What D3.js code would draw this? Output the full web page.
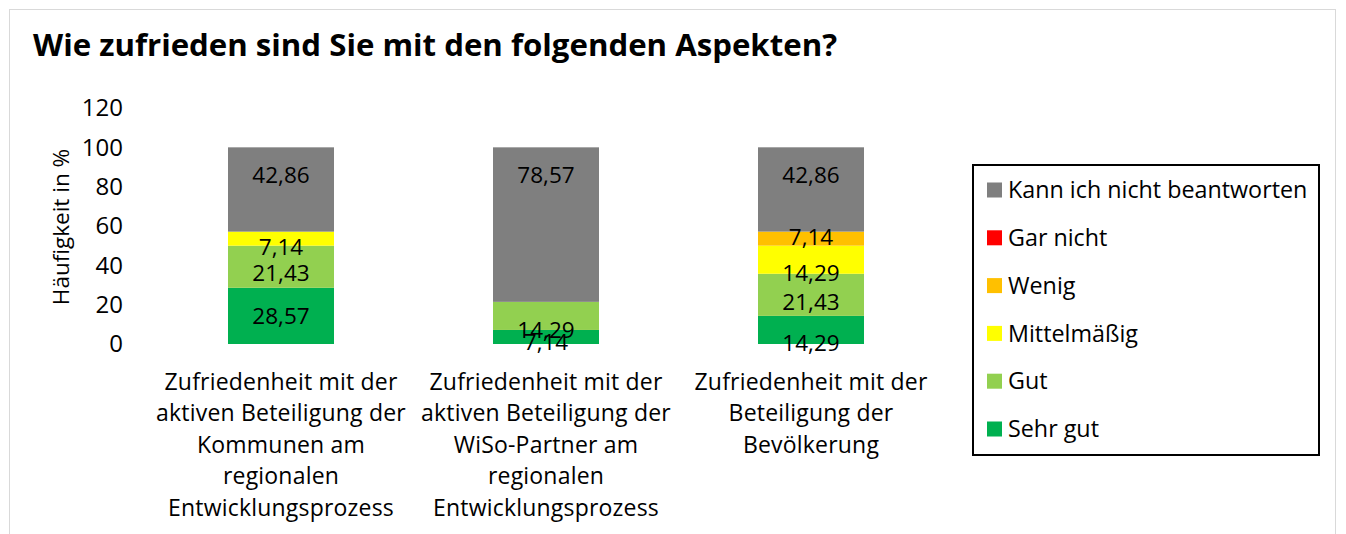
<!DOCTYPE html>
<html>
<head>
<meta charset="utf-8">
<script src="https://cdn.jsdelivr.net/npm/d3@7"></script>
<style>
  body { margin: 0; background: #fff; }
  text { font-family: "Open Sans", sans-serif; fill: #000; }
</style>
</head>
<body>
<div id="chart"></div>
<script>
// categories (line breaks as in the original)
const categories = [
    ['Zufriedenheit mit der', 'aktiven Beteiligung der', 'Kommunen am', 'regionalen', 'Entwicklungsprozess'],
    ['Zufriedenheit mit der', 'aktiven Beteiligung der', 'WiSo-Partner am', 'regionalen', 'Entwicklungsprozess'],
    ['Zufriedenheit mit der', 'Beteiligung der', 'Bevölkerung']
];

// series, from bottom to top of the stack
const seriesNames = ['Sehr gut', 'Gut', 'Mittelmäßig', 'Wenig', 'Gar nicht', 'Kann ich nicht beantworten'];
const sehrGut = [28.57, 7.14, 14.29];
const gut = [21.43, 14.29, 21.43];
const mittelmaessig = [7.14, 0, 14.29];
const wenig = [0, 0, 7.14];
const garNicht = [0, 0, 0];
const kannNicht = [42.86, 78.57, 42.86];

const yTicks = [0, 20, 40, 60, 80, 100, 120];

const colors = ['#00b050', '#92d050', '#ffff00', '#ffc000', '#ff0000', '#7f7f7f'];

// label nudges (px from segment middle), like the hand-placed labels of the original
const labelNudge = [
    [0, 5, 13],
    [6, 14, 7],
    [8, 0, 13],
    [0, 0, -2],
    [0, 0, 0]
];

const width = 1346, height = 534;
const svg = d3.select('#chart').append('svg')
    .attr('width', width)
    .attr('height', height);

// outer chart frame
svg.append('rect')
    .attr('x', 9.5).attr('y', 9.5)
    .attr('width', 1326).attr('height', 600)
    .attr('fill', 'none')
    .attr('stroke', '#d9d9d9')
    .attr('stroke-width', 1);

svg.append('text')
    .attr('x', 33).attr('y', 56)
    .attr('font-size', 31.2)
    .attr('font-weight', 'bold')
    .text('Wie zufrieden sind Sie mit den folgenden Aspekten?');

const allSeries = [sehrGut, gut, mittelmaessig, wenig, garNicht, kannNicht];
const rows = categories.map((c, i) => {
    const r = { idx: i };
    seriesNames.forEach((s, j) => r[s] = allSeries[j][i]);
    return r;
});
const stacked = d3.stack().keys(seriesNames)(rows);

const x = d3.scaleBand()
    .domain(d3.range(categories.length))
    .range([148.5, 943.5])
    .paddingInner(0.6)
    .paddingOuter(0.3);

const y = d3.scaleLinear()
    .domain([0, 120])
    .range([344, 108]);

// y axis: labels only
const yAxis = svg.append('g')
    .attr('transform', 'translate(123,0)')
    .call(d3.axisLeft(y).tickValues(yTicks).tickSize(0).tickPadding(0));
yAxis.select('.domain').remove();
yAxis.selectAll('text')
    .attr('font-size', 24)
    .attr('font-family', '"Open Sans", sans-serif')
    .attr('fill', '#000');

svg.append('text')
    .attr('transform', 'translate(69,227) rotate(-90)')
    .attr('text-anchor', 'middle')
    .attr('font-size', 22.5)
    .text('Häufigkeit in %');

// bars
const layers = svg.append('g').selectAll('g')
    .data(stacked)
    .enter().append('g')
    .attr('fill', (d, i) => colors[i]);

layers.selectAll('rect')
    .data(d => d)
    .enter().append('rect')
    .attr('x', (d, i) => x(i))
    .attr('y', d => y(d[1]))
    .attr('width', x.bandwidth())
    .attr('height', d => y(d[0]) - y(d[1]));

// data labels
stacked.forEach((layer, si) => {
    layer.forEach((d, i) => {
        const v = d[1] - d[0];
        if (v <= 0) return;
        let cy;
        if (si === stacked.length - 1) {
            cy = y(d[1]) + 28; // inside end
        } else {
            cy = y((d[0] + d[1]) / 2) + labelNudge[si][i];
        }
        svg.append('text')
            .attr('x', x(i) + x.bandwidth() / 2)
            .attr('y', cy)
            .attr('dy', '0.35em')
            .attr('text-anchor', 'middle')
            .attr('font-size', 22.5)
            .text(d3.format('.2f')(v).replace('.', ','));
    });
});

// category labels
categories.forEach((lines, i) => {
    const cx = x(i) + x.bandwidth() / 2;
    const t = svg.append('text')
        .attr('transform', `translate(${cx},0)`)
        .attr('text-anchor', 'middle')
        .attr('font-size', 23)
        .attr('letter-spacing', 0.2);
    lines.forEach((ln, k) => {
        t.append('tspan')
            .attr('x', 0)
            .attr('y', 390 + k * 31.4)
            .text(ln);
    });
});

// legend
const legend = svg.append('g');
legend.append('rect')
    .attr('x', 973).attr('y', 165)
    .attr('width', 346).attr('height', 290)
    .attr('fill', '#fff')
    .attr('stroke', '#000')
    .attr('stroke-width', 2);

const legendOrder = d3.range(seriesNames.length).reverse();
legendOrder.forEach((si, k) => {
    const cy = 190 + k * 47.8;
    legend.append('rect')
        .attr('x', 987).attr('y', cy - 7.5)
        .attr('width', 15).attr('height', 15)
        .attr('fill', colors[si]);
    legend.append('text')
        .attr('x', 1008).attr('y', cy)
        .attr('dy', '0.35em')
        .attr('font-size', 23.3)
        .text(seriesNames[si]);
});
</script>
</body>
</html>
